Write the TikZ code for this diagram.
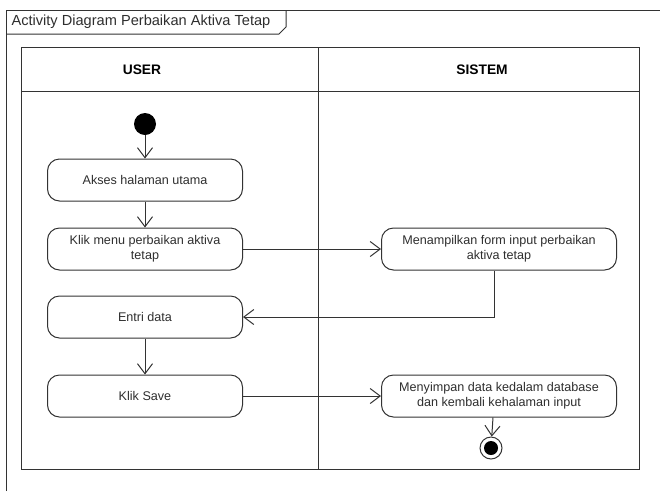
\documentclass[tikz,border=0pt]{standalone}
\usepackage{fontspec}
\setmainfont{Liberation Sans}
\usepackage{xcolor}
\usetikzlibrary{arrows.meta,positioning}
\definecolor{linegray}{HTML}{333333}
\definecolor{textgray}{HTML}{2E2E2E}

\begin{document}
\begin{tikzpicture}[x=1pt,y=-1pt,
act/.style={draw=linegray,rounded corners=12pt,align=center,minimum height=42pt,minimum width=195pt,font=\fontsize{12.6}{15}\selectfont,text=textgray,line width=1pt},
wideact/.style={act,minimum width=235pt},
lane/.style={draw=linegray,line width=1pt},
arrow/.style={-{Straight Barb[length=10pt,width=15pt]},draw=linegray,line width=1pt}
]
\useasboundingbox (0,0) rectangle (660,491);
% frame and title tab
\draw[lane] (6,491) -- (6,10) -- (660,10);
\draw[lane] (6,34) -- (279,34) -- (286,27) -- (286,10);
\node[anchor=west,font=\fontsize{14.6}{16}\selectfont,text=textgray] (title) at (8,22) {Activity Diagram Perbaikan Aktiva Tetap};
% swimlanes
\draw[lane] (21,47) rectangle (639,469);
\draw[lane] (21,91) -- (639,91);
\draw[lane] (318,47) -- (318,469);
\node[font=\bfseries\fontsize{13.8}{16}\selectfont] (user) at (142,70) {USER};
\node[font=\bfseries\fontsize{13.8}{16}\selectfont] (sistem) at (482,70) {SISTEM};
% activities
\node[circle,fill=black,minimum size=22pt,inner sep=0pt] (start) at (145,124) {};
\node[act] (akses) at (145,180) {Akses halaman utama};
\node[act,below=26pt of akses] (menu) {Klik menu perbaikan aktiva\\tetap};
\node[act,below=25pt of menu] (entri) {Entri data};
\node[act,below=36pt of entri] (save) {Klik Save};
\node[wideact,right=138pt of menu] (form) {Menampilkan form input perbaikan\\aktiva tetap};
\node[wideact,right=138pt of save] (simpan) {Menyimpan data kedalam database\\dan kembali kehalaman input};
\node[circle,draw=linegray,line width=1pt,minimum size=22pt,inner sep=0pt] (end) at (491,448) {};
\node[circle,fill=black,minimum size=14pt,inner sep=0pt] (endin) at (end) {};
% flows
\draw[arrow] (start) -- (akses);
\draw[arrow] (akses) -- (menu);
\draw[arrow] (menu) -- (form);
\draw[arrow] ([xshift=-5pt]form.south) |- (entri.east);
\draw[arrow] (entri) -- (save);
\draw[arrow] (save) -- (simpan);
\draw[arrow] ([xshift=-6pt]simpan.south) -- (end);
\end{tikzpicture}
\end{document}
